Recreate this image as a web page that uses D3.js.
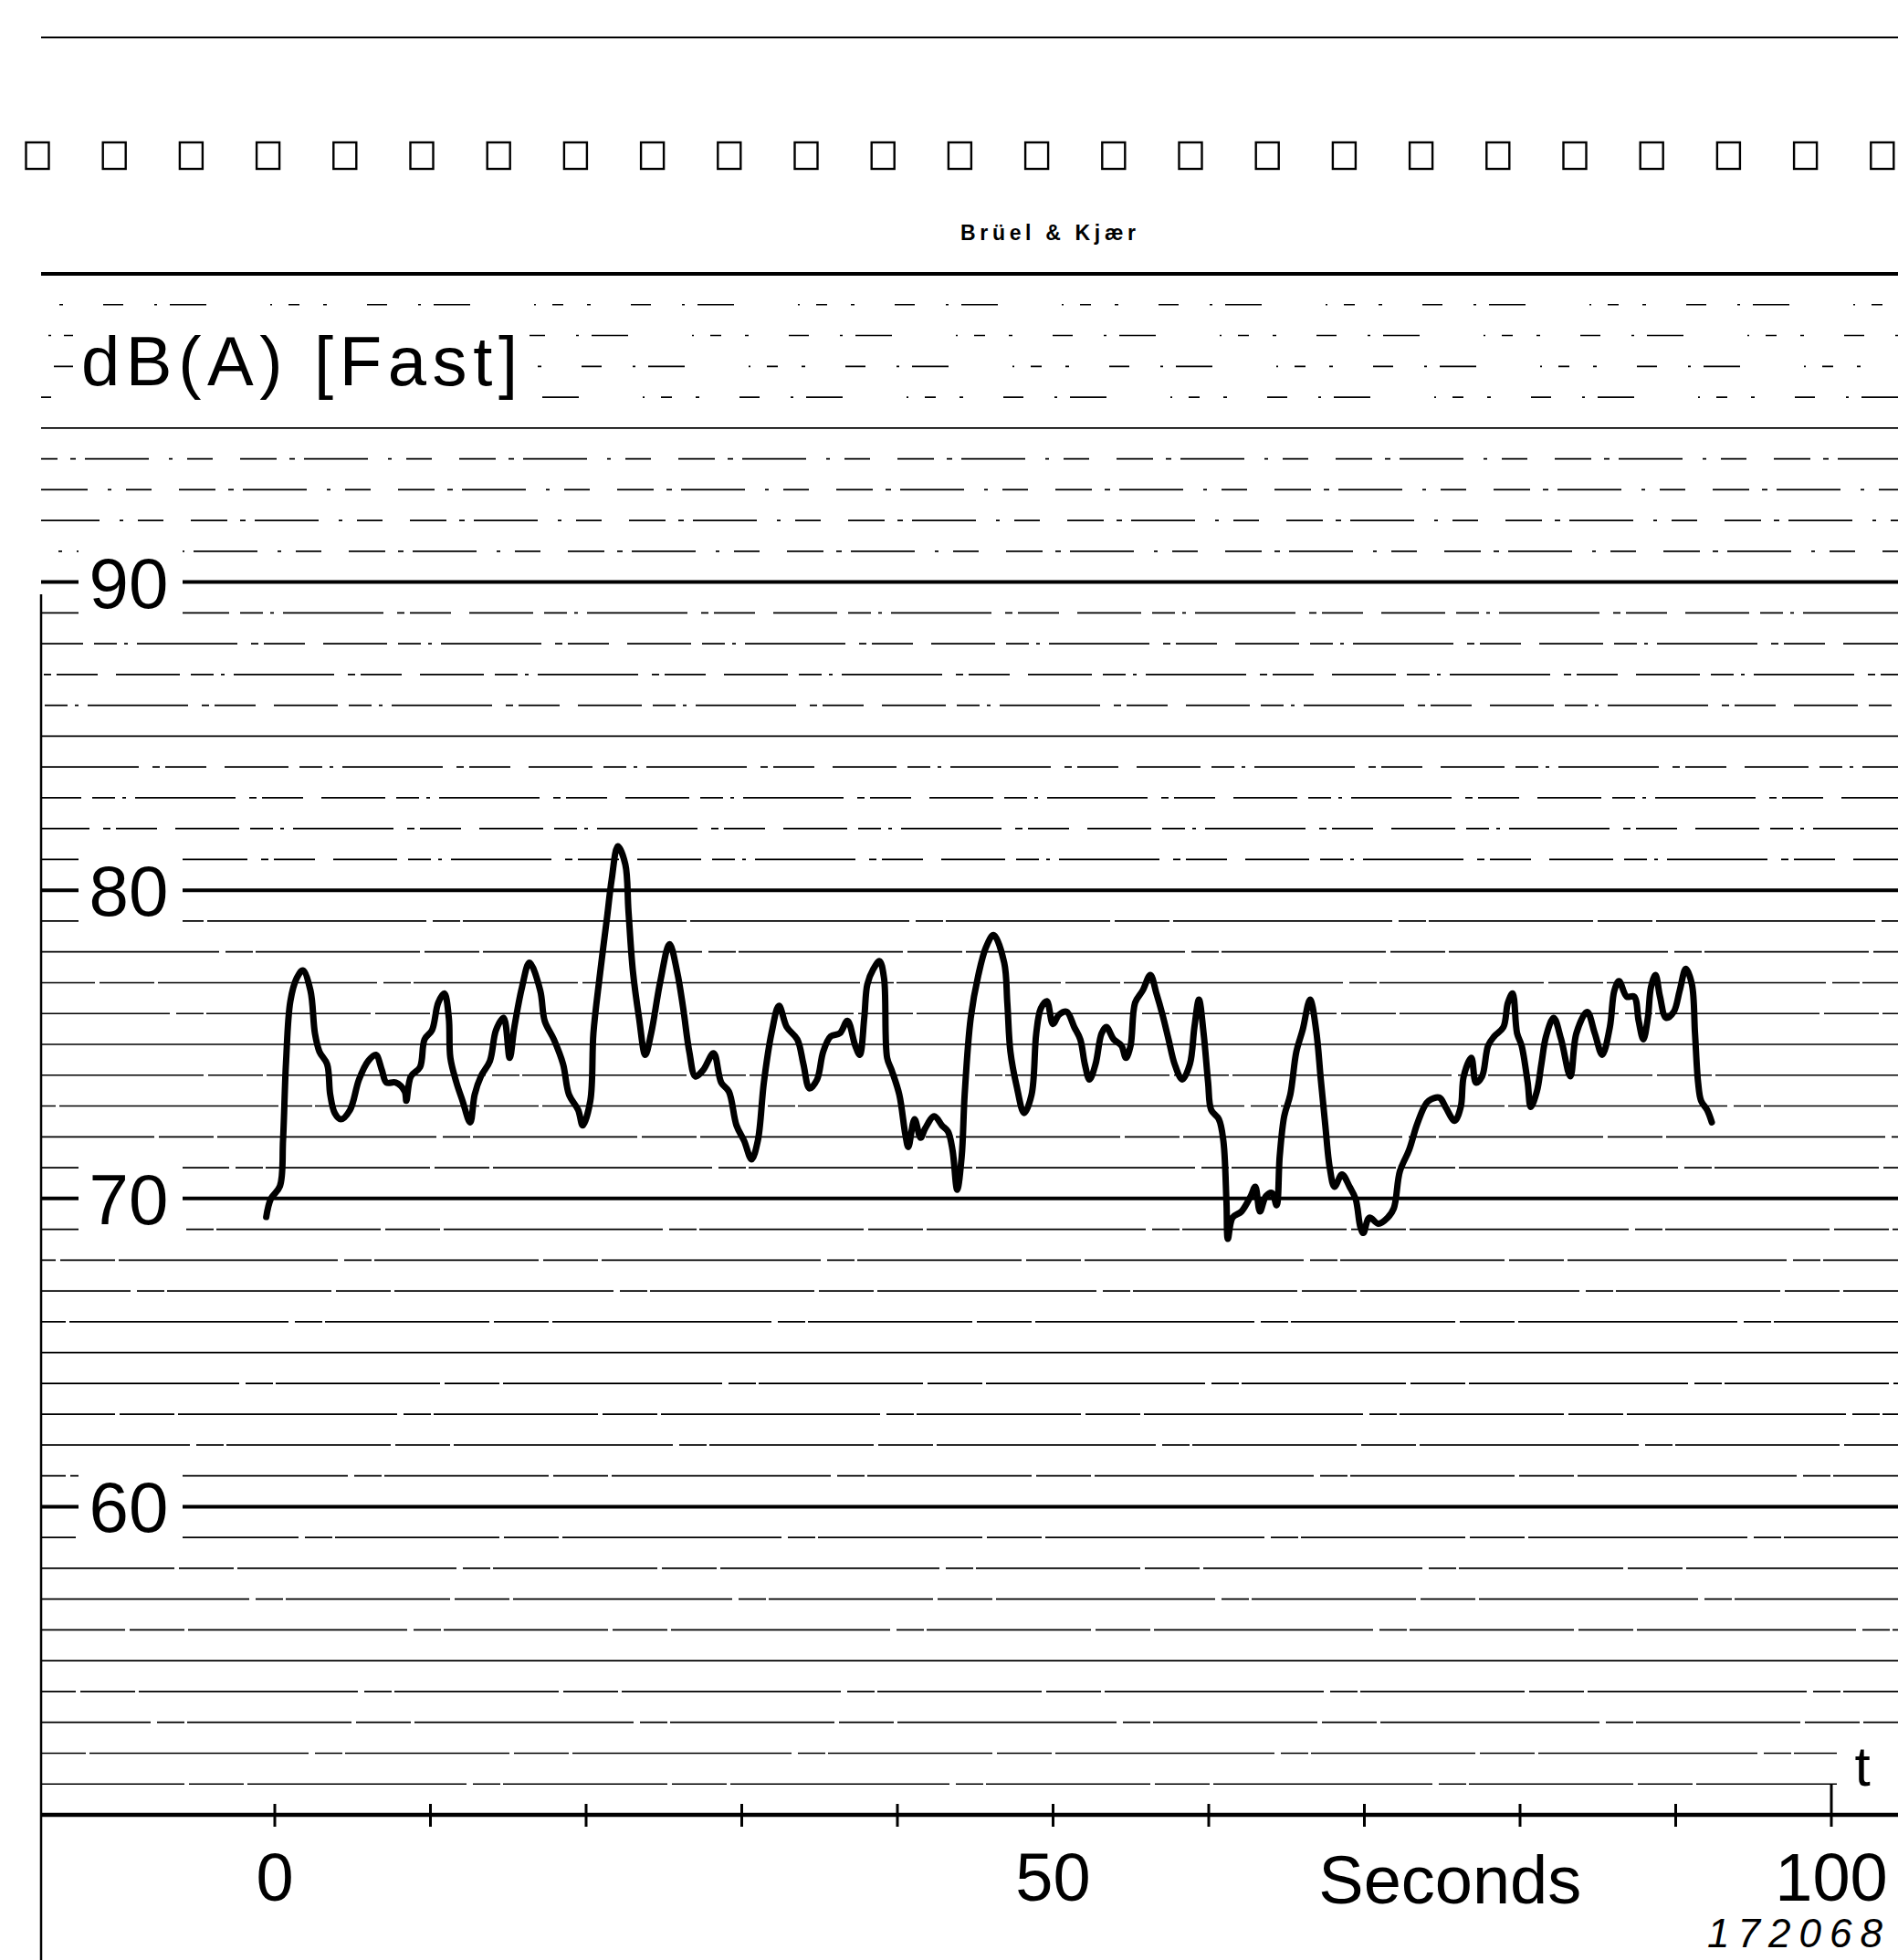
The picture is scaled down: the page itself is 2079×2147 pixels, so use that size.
<!DOCTYPE html>
<html><head><meta charset="utf-8">
<script src="https://cdn.jsdelivr.net/npm/d3@7"></script>
<style>html,body{margin:0;padding:0;background:#fff;} svg{display:block;}</style>
</head><body>
<script>
const W = 2079, H = 2147;

// ---- data read from the recording ----
const timeS = [-0.55,-0.26,0.33,0.53,0.72,1.0,1.41,1.8,2.29,2.58,2.87,3.36,3.56,3.85,4.24,4.83,5.41,6.0,6.49,6.88,7.17,7.76,8.35,8.45,8.74,9.33,9.62,10.1,10.5,10.89,11.18,11.28,11.67,12.06,12.55,12.84,13.24,13.82,14.21,14.7,15.09,15.39,15.88,16.36,17.05,17.34,17.93,18.52,18.9,19.49,19.78,20.27,20.47,20.86,21.35,21.64,22.04,22.52,22.72,
23.01,23.4,23.8,24.18,24.77,25.36,25.85,26.24,26.63,27.02,27.51,28.19,28.68,29.17,29.66,30.15,30.63,31.03,31.42,31.91,32.39,32.89,33.57,33.96,34.35,34.84,35.23,35.72,36.3,36.79,37.29,37.58,37.87,38.07,38.46,38.85,39.14,39.34,39.63,40.12,40.51,40.7,41.1,41.49,41.78,42.37,42.86,43.25,43.54,43.84,44.13,44.32,44.71,45.2,45.69,46.18,
46.86,47.06,47.26,47.65,48.14,48.62,48.92,49.21,49.6,49.99,50.38,50.87,51.36,51.75,52.04,52.34,52.73,53.12,53.42,53.9,54.39,54.68,54.98,55.27,55.76,56.25,56.64,57.03,57.42,57.81,58.3,58.79,59.08,59.37,59.67,59.96,60.16,60.65,60.94,61.14,61.23,61.53,62.11,62.7,62.99,63.29,63.68,64.07,64.36,64.56,64.85,65.24,65.63,66.03,66.51,66.9,67.2,67.49,67.78,68.08,68.56,69.05,69.44,69.74,
69.93,70.32,70.91,71.5,71.89,72.28,72.87,73.36,73.84,74.13,74.82,75.21,75.8,76.19,76.38,76.87,77.17,77.56,77.95,78.34,78.93,79.22,79.52,79.81,80.1,80.49,80.69,81.08,81.37,81.67,82.16,82.64,83.23,83.62,84.31,84.8,85.28,85.77,86.06,86.36,86.85,87.33,87.62,87.92,88.21,88.41,88.7,88.99,89.38,89.87,90.26,90.65,91.04,91.24,91.44,91.63,92.02,92.32];
const levelDB = [69.4,69.98,70.4,71.9,74.4,76.4,77.15,77.4,76.75,75.35,74.76,74.36,73.37,72.77,72.57,72.87,73.86,74.46,74.66,74.16,73.76,73.76,73.47,73.17,73.96,74.26,75.16,75.46,76.35,76.65,75.86,74.56,73.76,73.17,72.47,73.37,73.96,74.46,75.46,75.86,74.56,75.56,76.85,77.65,76.75,75.76,75.16,74.36,73.37,72.87,72.37,73.17,75.36,77.15,79.14,80.34,81.43,80.84,79.34,
77.35,75.86,74.66,75.36,77.05,78.25,77.35,76.16,74.76,73.96,74.16,74.71,73.76,73.47,72.37,71.87,71.27,71.87,73.76,75.36,76.25,75.56,75.16,74.36,73.57,73.86,74.76,75.26,75.36,75.76,74.96,74.66,75.86,76.95,77.45,77.7,77.15,74.56,74.16,73.37,72.07,71.67,72.57,71.97,72.27,72.67,72.37,72.17,71.57,70.28,71.37,73.37,75.86,77.25,78.15,78.55,
77.65,76.35,74.76,73.67,72.77,73.37,75.36,76.16,76.4,75.66,75.96,76.06,75.56,75.16,74.36,73.86,74.36,75.36,75.56,75.16,74.96,74.56,74.96,76.35,76.75,77.25,76.65,75.96,75.16,74.36,73.86,74.36,75.56,76.45,75.36,73.76,72.87,72.57,71.87,69.88,68.69,69.38,69.58,70.08,70.38,69.58,70.08,70.18,69.78,71.37,72.67,73.37,74.76,75.46,76.45,75.46,73.86,72.37,70.98,70.38,70.78,70.38,69.98,69.08,
68.88,69.38,69.18,69.38,69.68,70.88,71.57,72.37,72.97,73.17,73.27,72.97,72.52,72.97,73.96,74.56,73.76,73.96,74.96,75.26,75.56,76.35,76.65,75.36,74.96,73.76,72.97,73.47,74.36,75.26,75.86,75.16,73.96,75.36,76.05,75.36,74.66,75.56,76.75,77.05,76.55,76.55,75.76,75.16,75.86,76.85,77.25,76.55,75.86,76.05,76.75,77.45,76.95,75.36,73.76,73.17,72.87,72.47];

const yTickValues = [60, 70, 80, 90];
const yTickLabels = ["60", "70", "80", "90"];
const xTickValues = [0, 10, 20, 30, 40, 50, 60, 70, 80, 90, 100];
const xTickLabels = ["0", "", "", "", "", "50", "", "", "", "", "100"];
const gridLevels = d3.range(51, 100);
const yTitle = "dB(A) [Fast]";
const xTitle = "Seconds";
const brandText = "Brüel & Kjær";
const figureId = "172068";
const axisSymbol = "t";

// ---- scales ----
const x = d3.scaleLinear().domain([0, 100]).range([301, 2006]);
const y = d3.scaleLinear().domain([50, 100]).range([1988, 300]);
const LEFT = 45;
const FONT = "'Liberation Sans', Arial, Helvetica, sans-serif";

const svg = d3.select("body").append("svg").attr("width", W).attr("height", H)
  .attr("viewBox", `0 0 ${W} ${H}`);
svg.append("rect").attr("width", W).attr("height", H).attr("fill", "#fff");

// top rule
svg.append("line").attr("x1", LEFT).attr("x2", W).attr("y1", 41).attr("y2", 41)
  .attr("stroke", "#000").attr("stroke-width", 2.2);

// sprocket holes
svg.append("g").selectAll("rect").data(d3.range(25)).join("rect")
  .attr("x", i => 41 + i * 84.2 - 12.5).attr("y", 171 - 15)
  .attr("width", 25).attr("height", 29)
  .attr("fill", "none").attr("stroke", "#000").attr("stroke-width", 2.4);

// brand
svg.append("text").attr("x", 1148).attr("y", 263).attr("text-anchor", "middle")
  .attr("font-family", FONT).attr("font-size", 23).attr("font-weight", "bold")
  .attr("textLength", 192).attr("lengthAdjust", "spacing").text(brandText);

// grid lines (printed paper rulings, broken as on the scan)
function dashFor(v) {
  if (v % 5 === 0) return null;
  if (v >= 96) return "2 18 12 26 4 44 22 34 3 14 40 70";
  if (v >= 91) return "40 14 6 10 70 22 4 16 28 30";
  if (v >= 81) return "70 12 25 8 4 10 110 15 8 6 45 20";
  return "180 5 60 4 240 7 30 3";
}
const grid = svg.append("g");
grid.selectAll("line").data(gridLevels).join("line")
  .attr("x1", LEFT).attr("x2", W)
  .attr("y1", d => y(d)).attr("y2", d => y(d))
  .attr("stroke", "#000")
  .attr("stroke-width", d => d % 10 === 0 ? 4 : 1.7)
  .attr("stroke-dasharray", d => dashFor(d))
  .attr("stroke-dashoffset", d => (d * 173) % 400);
// 100 dB heavy rule
svg.append("line").attr("x1", LEFT).attr("x2", W).attr("y1", y(100)).attr("y2", y(100))
  .attr("stroke", "#000").attr("stroke-width", 4);

// left border
svg.append("line").attr("x1", LEFT).attr("x2", LEFT).attr("y1", y(89.6)).attr("y2", H)
  .attr("stroke", "#000").attr("stroke-width", 2.5);

// y labels with paper gaps
const yl = svg.append("g");
yl.selectAll("rect").data(yTickValues).join("rect")
  .attr("x", 86).attr("y", d => y(d) - 38).attr("width", 114).attr("height", 76)
  .attr("fill", "#fff");
yl.selectAll("text").data(yTickValues).join("text")
  .attr("x", 141).attr("y", d => y(d) + 28).attr("text-anchor", "middle")
  .attr("font-family", FONT).attr("font-size", 78)
  .text((d, i) => yTickLabels[i]);

// y title
svg.append("rect").attr("x", 80).attr("y", 352).attr("width", 500).attr("height", 90).attr("fill", "#fff");
svg.append("text").attr("x", 89).attr("y", 422)
  .attr("font-family", FONT).attr("font-size", 76)
  .attr("textLength", 478).attr("lengthAdjust", "spacing").text(yTitle);

// x axis
svg.append("line").attr("x1", LEFT).attr("x2", W).attr("y1", y(50)).attr("y2", y(50))
  .attr("stroke", "#000").attr("stroke-width", 4.5);
svg.append("g").selectAll("line").data(xTickValues).join("line")
  .attr("x1", d => x(d)).attr("x2", d => x(d))
  .attr("y1", d => d === 100 ? y(51) : y(50) - 12).attr("y2", y(50) + 13)
  .attr("stroke", "#000").attr("stroke-width", 3);
svg.append("g").selectAll("text").data(xTickValues).join("text")
  .attr("x", d => x(d)).attr("y", 2082).attr("text-anchor", "middle")
  .attr("font-family", FONT).attr("font-size", 74)
  .text((d, i) => xTickLabels[i]);
svg.append("text").attr("x", x(75.5)).attr("y", 2085).attr("text-anchor", "middle")
  .attr("font-family", FONT).attr("font-size", 74).text(xTitle);
svg.append("text").attr("x", 1966).attr("y", 2133).attr("text-anchor", "middle")
  .attr("font-family", FONT).attr("font-size", 44).attr("font-style", "italic")
  .attr("textLength", 192).attr("lengthAdjust", "spacing").text(figureId);

// "t" symbol at end of time axis
svg.append("rect").attr("x", 2012).attr("y", 1900).attr("width", 67).attr("height", 78).attr("fill", "#fff");
svg.append("text").attr("x", 2040).attr("y", 1956).attr("text-anchor", "middle")
  .attr("font-family", FONT).attr("font-size", 62).text(axisSymbol);

// trace
const pts = timeS.map((t, i) => [t, levelDB[i]]);
svg.append("path").datum(pts)
  .attr("d", d3.line().x(d => x(d[0])).y(d => y(d[1])).curve(d3.curveCatmullRom.alpha(0.5)))
  .attr("fill", "none").attr("stroke", "#000").attr("stroke-width", 7)
  .attr("stroke-linejoin", "round").attr("stroke-linecap", "round");
</script>
</body></html>
